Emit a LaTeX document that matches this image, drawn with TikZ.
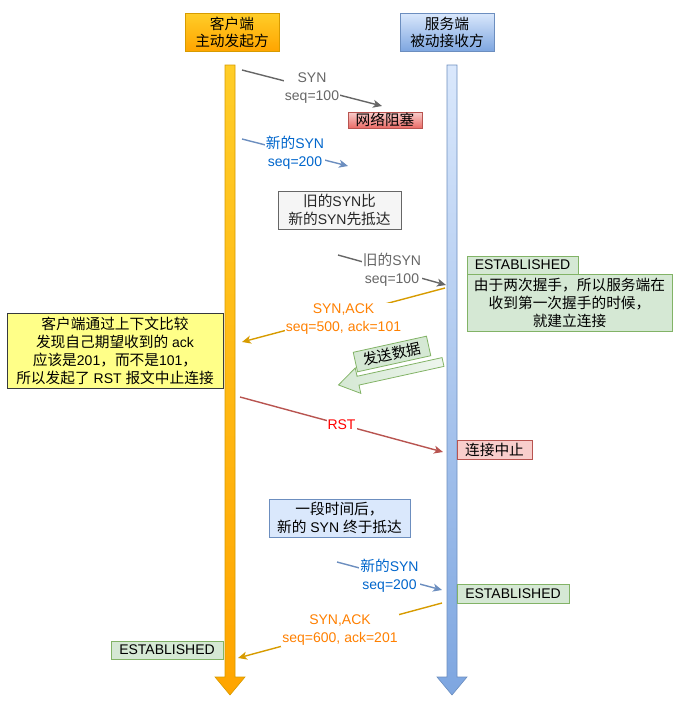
\documentclass[tikz,border=0pt]{standalone}
\usepackage{fontspec}
\setmainfont{Liberation Sans}
\newfontfamily\cjk[Scale=1.05]{Noto Sans CJK SC}
\newcommand\zh[1]{{\cjk #1}}
\usetikzlibrary{arrows.meta}
\definecolor{cgray}{HTML}{666666}
\definecolor{cblueline}{HTML}{6C8EBF}
\definecolor{cbluetext}{HTML}{0066CC}
\definecolor{corgline}{HTML}{D79B00}
\definecolor{corgtext}{HTML}{FF8000}
\definecolor{credline}{HTML}{B85450}
\definecolor{credtext}{HTML}{FF0000}
\definecolor{cgreenfill}{HTML}{D5E8D4}
\definecolor{cgreenline}{HTML}{82B366}
\definecolor{credfill}{HTML}{F8CECC}
\definecolor{credfilldark}{HTML}{EA6B66}
\definecolor{cbluefill}{HTML}{DAE8FC}
\definecolor{cbluedark}{HTML}{7EA6E0}
\definecolor{cyel}{HTML}{FFCD28}
\definecolor{corg}{HTML}{FFA500}
\definecolor{cyelfill}{HTML}{FFFF88}
\definecolor{cdark}{HTML}{36393D}
\definecolor{cgrayfill}{HTML}{F5F5F5}
\begin{document}
\begin{tikzpicture}[x=1pt,y=-1pt,
  font=\fontsize{14}{18}\selectfont,
  box/.style={draw, line width=0.8pt, inner sep=0pt, align=center},
  msg/.style={line width=1.4pt, -{Stealth[length=9pt,width=8pt,inset=2.5pt]}},
  lbl/.style={fill=white, inner sep=1pt, align=center},
  grn/.style={box, fill=cgreenfill, draw=cgreenline},
  lifeC/.style={draw=corgline, line width=0.6pt, top color=cyel, bottom color=corg},
  lifeS/.style={draw=cblueline, line width=0.6pt, top color=cbluefill, bottom color=cbluedark}]
\useasboundingbox (0,0) rectangle (679,702);

% headers
\node[box, draw=corgline, top color=cyel, bottom color=corg, minimum width=94pt, minimum height=38pt] (hdrC) at (232,32)
  {\zh{客户端}\\[-1pt]\zh{主动发起方}};
\node[box, draw=cblueline, top color=cbluefill, bottom color=cbluedark, minimum width=94pt, minimum height=38pt] (hdrS) at (447,32)
  {\zh{服务端}\\[-1pt]\zh{被动接收方}};

% lifelines
\path[lifeC] (225,65) -- (235,65) -- (235,677) -- (245,677) -- (230,695) -- (215,677) -- (225,677) -- cycle;
\path[lifeS] (447,65) -- (457,65) -- (457,677) -- (467,677) -- (452,695) -- (437,677) -- (447,677) -- cycle;

% message 1
\coordinate (m1s) at (242,70); \coordinate (m1e) at (382,106);
\draw[msg, cgray] (m1s) -- node[lbl, text=cgray] (m1l) {SYN\\seq=100} (m1e);
\node[box, draw=credline, top color=credfill, bottom color=credfilldark, minimum width=74pt, minimum height=16pt] (block) at (385,120) {\zh{网络阻塞}};

% message 2
\coordinate (m2s) at (242,139); \coordinate (m2e) at (348,166);
\draw[msg, cblueline] (m2s) -- node[lbl, text=cbluetext] (m2l) {\zh{新的}SYN\\seq=200} (m2e);

\node[box, draw=cgray, fill=cgrayfill, text=black!85, minimum width=123pt, minimum height=38pt] (note1) at (339.5,210)
  {\zh{旧的}SYN\zh{比}\\\zh{新的}SYN\zh{先抵达}};

% message 3
\coordinate (m3s) at (338,255); \coordinate (m3e) at (446,285);
\draw[msg, cgray] (m3s) -- node[lbl, text=cgray] (m3l) {\zh{旧的}SYN\\seq=100} (m3e);

\node[grn, minimum width=111pt, minimum height=18pt] (est1) at (522.5,265) {ESTABLISHED};
\node[grn, minimum width=205pt, minimum height=57pt] (expl) at (569.5,302.5)
  {\zh{由于两次握手，所以服务端在}\\\zh{收到第一次握手的时候，}\\\zh{就建立连接}};

% message 4
\coordinate (m4s) at (445,288); \coordinate (m4e) at (242,342);
\draw[msg, corgline] (m4s) -- node[lbl, text=corgtext, yshift=-4pt] (m4l) {SYN,ACK\\seq=500, ack=101} (m4e);

\node[box, draw=cdark, fill=cyelfill, minimum width=216pt, minimum height=75pt] (yel) at (115,350.5)
  {\zh{客户端通过上下文比较}\\\zh{发现自己期望收到的} ack\\\zh{应该是}201\zh{，而不是}101\zh{，}\\\zh{所以发起了} RST \zh{报文中止连接}};

% send data arrow
\begin{scope}[shift={(443,362)}, rotate=12.4]
\path[draw=cgreenline, line width=0.8pt, left color=cgreenfill, right color=cgreenfill!40]
  (0,-4.5) -- (-87,-4.5) -- (-87,-13) -- (-107,0) -- (-87,13) -- (-87,4.5) -- (0,4.5) -- cycle;
\end{scope}
\node[grn, rotate=12.4, minimum width=75pt, minimum height=20pt] (send) at (392,354) {\zh{发送数据}};

% RST
\coordinate (m5s) at (240,397); \coordinate (m5e) at (443,452);
\draw[msg, credline] (m5s) -- node[lbl, text=credtext] (m5l) {RST} (m5e);
\node[box, draw=credline, fill=credfill, minimum width=75pt, minimum height=19pt] (abort) at (494.5,449.5) {\zh{连接中止}};

\node[box, draw=cblueline, fill=cbluefill, minimum width=141pt, minimum height=38pt] (note2) at (339.5,518)
  {\zh{一段时间后，}\\\zh{新的} SYN \zh{终于抵达}};

% message 5
\coordinate (m6s) at (337,562); \coordinate (m6e) at (442,590);
\draw[msg, cblueline] (m6s) -- node[lbl, text=cbluetext] (m6l) {\zh{新的}SYN\\seq=200} (m6e);
\node[grn, minimum width=112pt, minimum height=19pt] (est2) at (513,593.5) {ESTABLISHED};

% message 6
\coordinate (m7s) at (442,603); \coordinate (m7e) at (238,658);
\draw[msg, corgline] (m7s) -- node[lbl, text=corgtext] (m7l) {SYN,ACK\\seq=600, ack=201} (m7e);
\node[grn, minimum width=112pt, minimum height=18pt] (est3) at (167,650) {ESTABLISHED};
\end{tikzpicture}
\end{document}
